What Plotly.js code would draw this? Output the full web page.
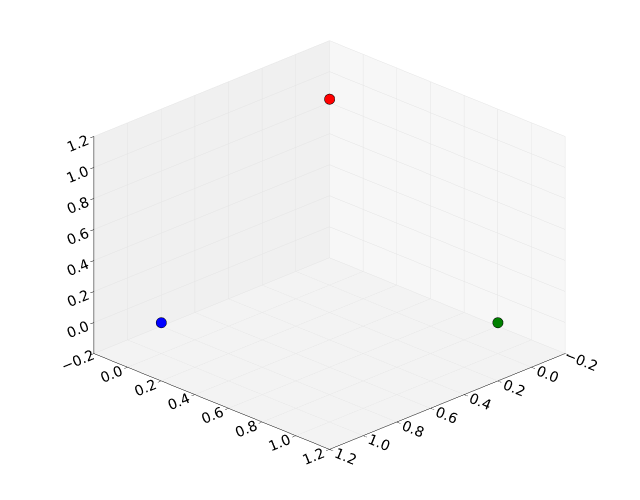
<!DOCTYPE html>
<html>
<head>
<meta charset="utf-8">
<script src="https://cdn.plot.ly/plotly-3.0.1.min.js"></script>
<style>
  html, body { margin: 0; padding: 0; background: #fff; }
  #plot { width: 640px; height: 500px; }
</style>
</head>
<body>
<div id="plot"></div>
<script>
// the three points
const xs = [1, 0, 0];
const ys = [0, 1, 0];
const zs = [0, 0, 1];
const pointColors = ["rgb(0,0,255)", "rgb(0,128,0)", "rgb(255,0,0)"];

const tickVals = [-0.2, 0.0, 0.2, 0.4, 0.6, 0.8, 1.0, 1.2];
const tickText = ["\u22120.2", "0.0", "0.2", "0.4", "0.6", "0.8", "1.0", "1.2"];

const trace = {
  type: "scatter3d",
  mode: "markers",
  x: xs,
  y: ys,
  z: zs,
  marker: {
    size: 6,
    color: pointColors,
    line: { color: "black", width: 1 }
  },
  hoverinfo: "none"
};

function axis(bg) {
  return {
    range: [-0.2, 1.2],
    autorange: false,
    tickvals: tickVals,
    ticktext: tickText,
    title: { text: "" },
    showbackground: true,
    backgroundcolor: bg,
    gridcolor: "rgb(228,228,228)",
    showline: true,
    linecolor: "black",
    zeroline: false,
    ticks: "outside",
    ticklen: 5,
    tickcolor: "black",
    showspikes: false,
    tickfont: { family: "DejaVu Sans", size: 13, color: "black" }
  };
}

// camera: azimuth 45 deg, elevation ~24 deg
const elev = 24 * Math.PI / 180;
const dist = 2.0;

const layout = {
  width: 640,
  height: 500,
  margin: { l: 0, r: 0, t: 0, b: 0 },
  paper_bgcolor: "white",
  showlegend: false,
  font: { family: "DejaVu Sans", size: 13, color: "black" },
  scene: {
    domain: { x: [0.03, 1], y: [0.02, 1] },
    xaxis: axis("rgb(247,247,247)"),
    yaxis: axis("rgb(240,240,240)"),
    zaxis: axis("rgb(243,243,243)"),
    aspectmode: "manual",
    aspectratio: { x: 1.36, y: 1.36, z: 0.97 },
    camera: {
      eye: {
        x: dist * Math.cos(elev) * Math.SQRT1_2,
        y: dist * Math.cos(elev) * Math.SQRT1_2,
        z: dist * Math.sin(elev)
      },
      center: { x: 0, y: 0, z: 0 },
      projection: { type: "orthographic" }
    }
  }
};

Plotly.newPlot("plot", [trace], layout, { displayModeBar: false });
</script>
</body>
</html>
